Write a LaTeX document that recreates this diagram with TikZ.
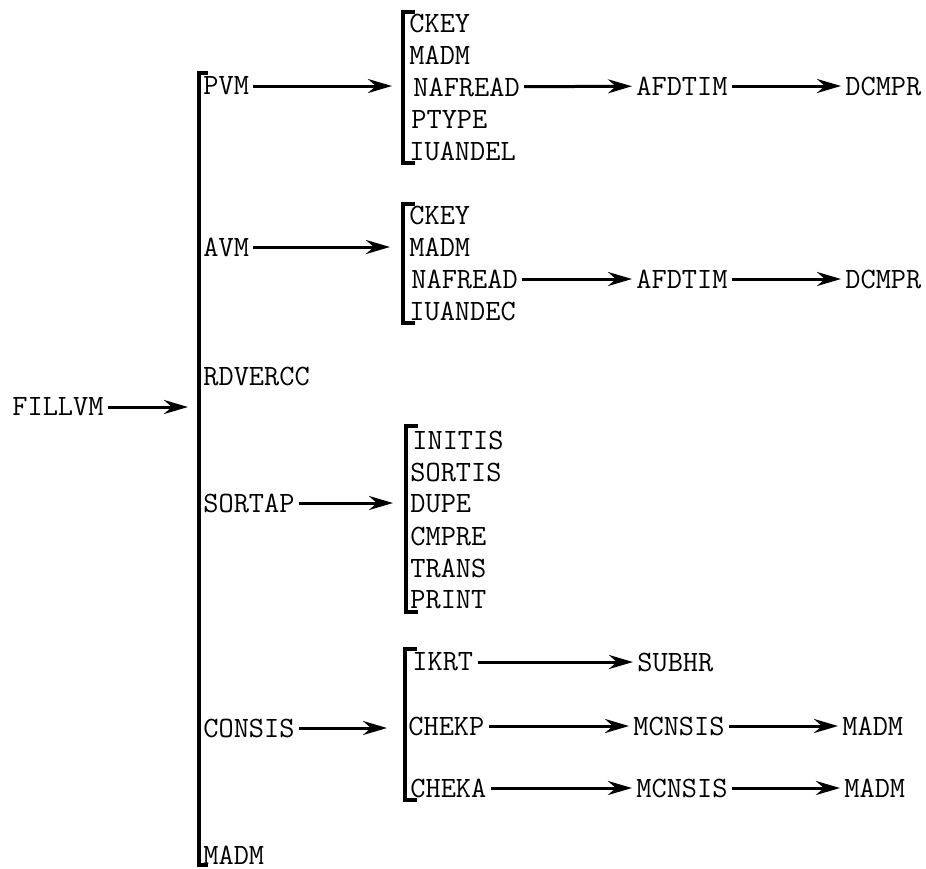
\documentclass[tikz,border=0pt]{standalone}
\usepackage{fontspec}
\usepackage{tikz}
\usetikzlibrary{arrows.meta,positioning}

\begin{document}
\begin{tikzpicture}[x=0.5pt, y=-0.5pt, node distance=16pt,
		every node/.style={inner xsep=2pt, inner ysep=0pt, anchor=west,
			font=\ttfamily\fontsize{14.75}{18}\selectfont},
		call/.style={-{Stealth[length=12pt,width=7pt]}, line width=1.5pt},
		brack/.style={line width=1.7pt}]
	\useasboundingbox (0,0) rectangle (926,868);

	% top level
	\node (fillvm) at (8,407) {FILLVM};
	\node (pvm) at (199,86) {PVM};
	\node (avm) at (199,247) {AVM};
	\node (rdvercc) at (199,376) {RDVERCC};
	\node (sortap) at (199,503) {SORTAP};
	\node (consis) at (199,728) {CONSIS};
	\node (madm) at (199,855) {MADM};
	\coordinate (main) at (188,407);
	\draw[brack] (208,73) -| (199,865) -- (208,865);
	\draw[call] (fillvm) -- (main);

	% PVM
	\node (ckeyA) at (405,23) {CKEY};
	\node[below=of ckeyA.west, anchor=west] (madmA) {MADM};
	\node[below=of madmA.west, anchor=west, xshift=2pt] (nafreadA) {NAFREAD};
	\node[below=of madmA.west, anchor=west, yshift=-16pt, xshift=1pt] (ptypeA) {PTYPE};
	\node[below=of ptypeA.west, anchor=west, xshift=-1pt] (iuandelA) {IUANDEL};
	\node (afdtimA) at (632,86) {AFDTIM};
	\node (dcmprA) at (841,86) {DCMPR};
	\coordinate (pvmlist) at (392,86);
	\draw[brack] (415,12) -| (403,163) -- (415,163);
	\draw[call] (pvm) -- (pvmlist);
	\draw[call] (nafreadA) -- (afdtimA);
	\draw[call] (afdtimA) -- (dcmprA);

	% AVM
	\node (ckeyB) at (405,215) {CKEY};
	\node[below=of ckeyB.west, anchor=west] (madmB) {MADM};
	\node[below=of madmB.west, anchor=west, xshift=1pt] (nafreadB) {NAFREAD};
	\node[below=of madmB.west, anchor=west, yshift=-16pt] (iuandecB) {IUANDEC};
	\node (afdtimB) at (632,279) {AFDTIM};
	\node (dcmprB) at (841,279) {DCMPR};
	\coordinate (avmlist) at (390,247);
	\draw[brack] (415,204) -| (403,323) -- (415,323);
	\draw[call] (avm) -- (avmlist);
	\draw[call] (nafreadB) -- (afdtimB);
	\draw[call] (afdtimB) -- (dcmprB);

	% SORTAP
	\node (initis) at (408,440) {INITIS};
	\node[below=of initis.west, anchor=west, xshift=-1pt] (sortis) {SORTIS};
	\node[below=of sortis.west, anchor=west] (dupe) {DUPE};
	\node[below=of dupe.west, anchor=west] (cmpre) {CMPRE};
	\node[below=of cmpre.west, anchor=west] (trans) {TRANS};
	\node[below=of trans.west, anchor=west] (print) {PRINT};
	\coordinate (sortlist) at (393,503);
	\draw[brack] (418,426) -| (406,612) -- (418,612);
	\draw[call] (sortap) -- (sortlist);

	% CONSIS
	\node (ikrt) at (408,662) {IKRT};
	\node[below=32pt of ikrt.west, anchor=west, xshift=-2pt] (chekp) {CHEKP};
	\node[below=31pt of chekp.west, anchor=west, xshift=1pt] (cheka) {CHEKA};
	\node (subhr) at (633,662) {SUBHR};
	\node (mcnsisP) at (629,726) {MCNSIS};
	\node (madmP) at (838,726) {MADM};
	\node (mcnsisA) at (632,788) {MCNSIS};
	\node (madmA2) at (840,788) {MADM};
	\coordinate (conslist) at (387,728);
	\draw[brack] (417,649) -| (405,800) -- (417,800);
	\draw[call] (consis) -- (conslist);
	\draw[call] (ikrt) -- (subhr);
	\draw[call] (chekp) -- (mcnsisP);
	\draw[call] (mcnsisP) -- (madmP);
	\draw[call] (cheka) -- (mcnsisA);
	\draw[call] (mcnsisA) -- (madmA2);
\end{tikzpicture}
\end{document}
